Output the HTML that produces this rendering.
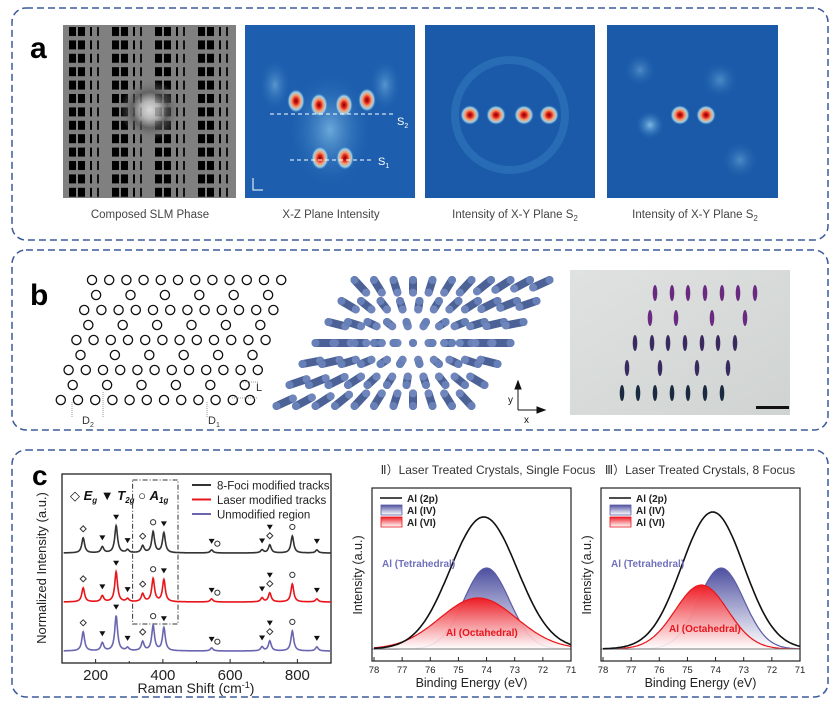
<!DOCTYPE html>
<html><head><meta charset="utf-8">
<style>
body{margin:0;background:#fff;width:840px;height:719px;overflow:hidden;font-family:"Liberation Sans",sans-serif}
svg{position:absolute;left:0;top:0}
text{font-family:"Liberation Sans","DejaVu Sans",sans-serif}
</style></head><body>
<svg id="fig" width="840" height="719" viewBox="0 0 840 719">
<defs>
<pattern id="slm" width="43" height="13.4" patternUnits="userSpaceOnUse" x="63" y="25">
<rect width="43" height="13.4" fill="#808080"/>
<rect x="6" y="2" width="7" height="9" fill="#000"/><rect x="15" y="2" width="7" height="9" fill="#000"/>
<rect x="27" y="2" width="2" height="9" fill="#000"/><rect x="34" y="2" width="2" height="9" fill="#111"/>
</pattern>
<radialGradient id="spot"><stop offset="0" stop-color="#7a0000"/><stop offset="0.25" stop-color="#e0201a"/><stop offset="0.5" stop-color="#f5a070"/><stop offset="0.75" stop-color="#9cd0ea"/><stop offset="1" stop-color="#1e64b4" stop-opacity="0"/></radialGradient>
<radialGradient id="glow"><stop offset="0" stop-color="#7fbbe4"/><stop offset="1" stop-color="#2a6fbb" stop-opacity="0"/></radialGradient>
<radialGradient id="ring"><stop offset="0" stop-color="#fff"/><stop offset="0.3" stop-color="#ccc"/><stop offset="0.6" stop-color="#555"/><stop offset="1" stop-color="#808080" stop-opacity="0"/></radialGradient>
<linearGradient id="gIV" x1="0" y1="0" x2="0" y2="1"><stop offset="0" stop-color="#4d4fa0"/><stop offset="1" stop-color="#fff" stop-opacity="0.9"/></linearGradient>
<linearGradient id="gVI" x1="0" y1="0" x2="0" y2="1"><stop offset="0" stop-color="#ee1c24"/><stop offset="1" stop-color="#fff" stop-opacity="0.9"/></linearGradient>
<linearGradient id="photoBg" x1="0" y1="0" x2="1" y2="1"><stop offset="0" stop-color="#dfe2e0"/><stop offset="1" stop-color="#cfd3d1"/></linearGradient>
</defs>

<rect x="12" y="8" width="816" height="232" rx="14" fill="none" stroke="#3d5a9a" stroke-width="1.5" stroke-dasharray="7,4"/>
<rect x="12" y="250" width="816" height="180" rx="14" fill="none" stroke="#3d5a9a" stroke-width="1.5" stroke-dasharray="7,4"/>
<rect x="12" y="450" width="816" height="247" rx="14" fill="none" stroke="#3d5a9a" stroke-width="1.5" stroke-dasharray="7,4"/>

<text x="30" y="58" font-size="30" font-weight="bold">a</text>
<text x="30" y="305" font-size="30" font-weight="bold">b</text>
<text x="32" y="485" font-size="28" font-weight="bold">c</text>

<g>
<rect x="63" y="25" width="173" height="173" fill="url(#slm)"/>
<circle cx="150" cy="110" r="30" fill="url(#ring)" opacity="0.7"/>
</g>
<g>
<rect x="245" y="25" width="170" height="173" fill="#1d5fae"/>
<ellipse cx="330" cy="130" rx="40" ry="55" fill="url(#glow)" opacity="0.8"/>
<ellipse cx="275" cy="85" rx="15" ry="25" fill="url(#glow)" opacity="0.6"/>
<ellipse cx="385" cy="85" rx="15" ry="25" fill="url(#glow)" opacity="0.6"/>
<ellipse cx="296" cy="101" rx="9" ry="12" fill="url(#spot)"/>
<ellipse cx="319" cy="105" rx="9" ry="12" fill="url(#spot)"/>
<ellipse cx="344" cy="105" rx="9" ry="12" fill="url(#spot)"/>
<ellipse cx="367" cy="100" rx="9" ry="12" fill="url(#spot)"/>
<ellipse cx="320" cy="158" rx="9" ry="12" fill="url(#spot)"/>
<ellipse cx="345" cy="158" rx="9" ry="12" fill="url(#spot)"/>
<line x1="270" y1="114" x2="395" y2="114" stroke="#fff" stroke-dasharray="4,3" stroke-width="1"/>
<line x1="290" y1="160" x2="372" y2="160" stroke="#fff" stroke-dasharray="4,3" stroke-width="1"/>
<text x="397" y="125" fill="#fff" font-size="11">S<tspan font-size="7" dy="3">2</tspan></text>
<text x="378" y="165" fill="#fff" font-size="11">S<tspan font-size="7" dy="3">1</tspan></text>
<path d="M253 178 v12 h10" stroke="#fff" fill="none" stroke-width="1"/>
</g>
<g>
<rect x="425" y="25" width="170" height="173" fill="#1a5aa8"/>
<circle cx="510" cy="115" r="55" fill="none" stroke="#3f86c8" stroke-width="8" opacity="0.4"/>
<circle cx="470" cy="115" r="10" fill="url(#spot)"/><circle cx="496" cy="115" r="10" fill="url(#spot)"/>
<circle cx="524" cy="115" r="10" fill="url(#spot)"/><circle cx="549" cy="115" r="10" fill="url(#spot)"/>
</g>
<g>
<rect x="607" y="25" width="171" height="173" fill="#1a5aa8"/>
<circle cx="650" cy="125" r="14" fill="url(#glow)"/><circle cx="720" cy="80" r="18" fill="url(#glow)" opacity="0.5"/>
<circle cx="640" cy="70" r="16" fill="url(#glow)" opacity="0.5"/><circle cx="740" cy="160" r="18" fill="url(#glow)" opacity="0.5"/>
<circle cx="680" cy="115" r="10" fill="url(#spot)"/><circle cx="706" cy="115" r="10" fill="url(#spot)"/>
</g>
<g font-size="11.5" fill="#444" text-anchor="middle">
<text x="150" y="218">Composed SLM Phase</text>
<text x="331" y="218">X-Z Plane Intensity</text>
<text x="515" y="218">Intensity of X-Y Plane S<tspan font-size="8" dy="3">2</tspan></text>
<text x="695" y="218">Intensity of X-Y Plane S<tspan font-size="8" dy="3">2</tspan></text>
</g>

<g id="lattice" fill="none" stroke="#111" stroke-width="1.3"></g>
<g font-size="11" fill="#333">
<line x1="243" y1="382" x2="258" y2="382" stroke="#999" stroke-dasharray="1,1"/>
<line x1="232" y1="398" x2="258" y2="398" stroke="#999" stroke-dasharray="1,1"/>
<text x="256" y="391">L</text>
<line x1="72" y1="402" x2="72" y2="418" stroke="#999" stroke-dasharray="1,1"/>
<line x1="103" y1="392" x2="103" y2="418" stroke="#999" stroke-dasharray="1,1"/>
<line x1="207" y1="402" x2="207" y2="418" stroke="#999" stroke-dasharray="1,1"/>
<text x="82" y="424">D<tspan font-size="7" dy="3">2</tspan></text>
<text x="208" y="424">D<tspan font-size="7" dy="3">1</tspan></text>
</g>
<g id="rods"></g>
<g stroke="#111" stroke-width="1" fill="#111">
<path d="M518 410 V385" /><path d="M515 389 L518 381 L521 389Z"/>
<path d="M518 410 H540"/><path d="M537 407 L545 410 L537 413Z"/>
<text x="508" y="403" font-size="10" stroke="none">y</text><text x="524" y="423" font-size="10" stroke="none">x</text>
</g>
<g>
<rect x="570" y="270" width="220" height="145" fill="url(#photoBg)"/>
<g id="marks"></g>
<rect x="756" y="406" width="33" height="3" fill="#111"/>
</g>

<g id="raman"></g>
<g id="xps2"></g>
<g id="xps3"></g>
</svg>

<script>
const NS='http://www.w3.org/2000/svg';
function mk(tag,attrs,parent,txt){const e=document.createElementNS(NS,tag);for(const k in attrs)e.setAttribute(k,attrs[k]);if(txt!==undefined)e.textContent=txt;parent.appendChild(e);return e;}

const lat=document.getElementById('lattice');
for(let r=0;r<9;r++){
  const y=280+r*15;
  const dense=(r%2===0);
  const n=dense?12:6, pitch=dense?17.2:34.4;
  const start=dense?(92-r*3.9):(100-r*3.9);
  for(let i=0;i<n;i++){
    const c=mk('circle',{cx:start+i*pitch,cy:y,r:4.6},lat);
    
    
  }
}
const rods=document.getElementById('rods');
const cx=413,cy=343;
for(let r=-3;r<=3;r++){
  for(let c=-5;c<=5;c++){
    const x=cx+c*19.5-r*13, y=cy+r*21;
    const dx=x-cx, dy=y-cy, d=Math.hypot(dx,dy);
    const L=Math.min(d*0.2,18);
    const ux=d?dx/d:0, uy=d?dy/d:0;
    const ln=mk('line',{x1:x,y1:y,x2:x-ux*L,y2:y-uy*L,stroke:'#4c6296','stroke-width':8,'stroke-linecap':'round'},rods);
    
    
    mk('circle',{cx:x-ux*L,cy:y-uy*L,r:4,fill:'#6f86bd'},rods);
    mk('circle',{cx:x,cy:y,r:4,fill:'#6880b8'},rods);
  }
}
const marks=document.getElementById('marks');
const rowsY=[293,318,343,368,393];
const cols=[[655,672,688,705,722,738,755],[650,676,712,745],[635,652,668,685,702,718,735],[627,660,697,728],[622,638,655,672,688,705,722]];
rowsY.forEach((y,ri)=>cols[ri].forEach(x=>{
  const e=mk('ellipse',{cx:x,cy:y,rx:2.3,ry:8,fill:ri<2?'#6a2a80':(ri<4?'#3a2a60':'#1a2a40')},marks);
  
  
}));

const ramanPeaks=[163,220,261,295,340,371,403,545,695,718,785,858];
const blackH=[15,6,27,3,7,21,20,3,3,8,17,3];
const redH=[14,6,30,3,8,23,22,3,4,9,18,3];
const blueH=[19,8,35,3,9,25,23,3,4,10,20,4];
const markerPos=[163,220,261,295,340,371,403,545,562,695,718,718,785,858];
const markerType=['d','t','t','t','d','o','t','t','o','t','t','d','o','t'];
const ramanTicks=[200,400,600,800];
const seriesNames=['8-Foci modified tracks','Laser modified tracks','Unmodified region'];

const R={x0:62,x1:331,y0:474,y1:663,dmin:100,dmax:900};
const rx=v=>R.x0+(v-R.dmin)/(R.dmax-R.dmin)*(R.x1-R.x0);
const g=document.getElementById('raman');
const box=mk('rect',{x:R.x0,y:R.y0,width:R.x1-R.x0,height:R.y1-R.y0,fill:'none',stroke:'#222','stroke-width':1.3},g);

for(let v=100;v<=900;v+=100){mk('line',{x1:rx(v),y1:R.y1,x2:rx(v),y2:R.y1-(v%200===0?4:2),stroke:'#222'},g);}
ramanTicks.forEach(v=>{const t=mk('text',{x:rx(v),y:R.y1+17,'font-size':15,'text-anchor':'middle',fill:'#222'},g,String(v));});
const xt=mk('text',{x:196,y:693,'font-size':14,'text-anchor':'middle',fill:'#222'},g);xt.innerHTML='Raman Shift (cm<tspan font-size="9" dy="-5">-1</tspan><tspan dy="5">)</tspan>';

const yt=mk('text',{transform:'translate(46,568) rotate(-90)','font-size':13,'text-anchor':'middle',fill:'#222'},g,'Normalized Intensity (a.u.)');

const dbox=mk('rect',{x:rx(310),y:480,width:rx(445)-rx(310),height:144,fill:'none',stroke:'#333','stroke-dasharray':'5,2,1,2'},g);

const baselines=[553,602,651], colors=['#333','#e8151b','#6a66b0'], allH=[blackH,redH,blueH];
const wid=5;
allH.forEach((H,si)=>{
  let d='';
  for(let v=R.dmin+5;v<=R.dmax;v+=1){
    let s=0;ramanPeaks.forEach((p,i)=>{s+=H[i]/(1+((v-p)/wid)**2);});
    d+=(d?'L':'M')+rx(v).toFixed(1)+','+(baselines[si]-s).toFixed(1);
  }
  const p=mk('path',{d:d,fill:'none',stroke:colors[si],'stroke-width':1.6},g);
  
  markerPos.forEach((mp,mi)=>{
    let s=0;ramanPeaks.forEach((p2,i)=>{s+=H[i]/(1+((mp-p2)/wid)**2);});
    let yy=baselines[si]-s-8; if(markerType[mi]==='t'&&mp===718)yy-=9;
    const X=rx(mp);let m;
    if(markerType[mi]==='t') m=mk('path',{d:`M${X-3},${yy-3}L${X+3},${yy-3}L${X},${yy+2}Z`,fill:'#111'},g);
    else if(markerType[mi]==='o') m=mk('circle',{cx:X,cy:yy-1,r:2.6,fill:'none',stroke:'#333'},g);
    else m=mk('path',{d:`M${X},${yy-4}L${X+3},${yy-1}L${X},${yy+2}L${X-3},${yy-1}Z`,fill:'none',stroke:'#333'},g);
    
  });
});
seriesNames.forEach((n,i)=>{
  const y=485+i*14.5;
  mk('line',{x1:192,y1:y,x2:211,y2:y,stroke:colors[i],'stroke-width':2},g);
  const t=mk('text',{x:217,y:y+4.5,'font-size':11.5,fill:'#222'},g,n);
  
});
const sym=mk('text',{x:70,y:500,'font-size':13,fill:'#111'},g);
sym.innerHTML='◇ <tspan font-weight="bold" font-style="italic">E<tspan font-size="8" dy="3">g</tspan></tspan><tspan dy="-3"> ▼ </tspan><tspan font-weight="bold" font-style="italic">T<tspan font-size="8" dy="3">2g</tspan></tspan><tspan dy="-3"> ○ </tspan><tspan font-weight="bold" font-style="italic">A<tspan font-size="8" dy="3">1g</tspan></tspan>';


const xpsTicks=[78,77,76,75,74,73,72,71];
const single2pCenter=74.1, single2pHeight=132, single2pFwhm=2.8;
const singleIVCenter=74.0, singleIVHeight=81, singleIVFwhm=1.9;
const singleVICenter=74.3, singleVIHeight=51, singleVIFwhm=3.2;
const eight2pCenter=74.1, eight2pHeight=137, eight2pFwhm=2.6;
const eightIVCenter=73.8, eightIVHeight=81, eightIVFwhm=1.9;
const eightVICenter=74.5, eightVIHeight=64, eightVIFwhm=2.2;

function xps(id,X0,title,tx,peaks,tetra,octa){
  const G=document.getElementById(id);
  const P={x0:X0,x1:X0+199,y0:488,y1:661,base:649};
  const ex=e=>P.x0+2+(78-e)/7*(P.x1-P.x0-2);
  const gau=(e,c,h,f)=>h*Math.exp(-4*Math.LN2*((e-c)/f)**2);
  const tt=mk('text',{x:tx,y:474,'font-size':12,'text-anchor':'middle',fill:'#333'},G,title);
  
  const fills=[['gIV','#5b5ba8',peaks[1]],['gVI','#e8151b',peaks[2]]];
  fills.forEach(([gid,col,pk])=>{
    let d=`M${ex(78)},${P.base}`;let l='';
    for(let e=78;e>=71;e-=0.05){const y=P.base-gau(e,...pk);d+=`L${ex(e).toFixed(1)},${y.toFixed(1)}`;l+=(l?'L':'M')+ex(e).toFixed(1)+','+y.toFixed(1);}
    d+=`L${ex(71)},${P.base}Z`;
    const a=mk('path',{d:d,fill:`url(#${gid})`},G);
    mk('path',{d:l,fill:'none',stroke:col,'stroke-width':1.2},G);
  });
  mk('line',{x1:P.x0,y1:P.base,x2:P.x1,y2:P.base,stroke:'#777','stroke-width':1},G);
  let l='';for(let e=78;e>=71;e-=0.05){const y=P.base-gau(e,...peaks[0]);l+=(l?'L':'M')+ex(e).toFixed(1)+','+y.toFixed(1);}
  const env=mk('path',{d:l,fill:'none',stroke:'#111','stroke-width':1.6},G);
  const b=mk('rect',{x:P.x0,y:P.y0,width:P.x1-P.x0,height:P.y1-P.y0,fill:'none',stroke:'#222','stroke-width':1.2},G);
  
  xpsTicks.forEach(v=>{mk('line',{x1:ex(v),y1:P.y1,x2:ex(v),y2:P.y1-4,stroke:'#222'},G);
    const t=mk('text',{x:ex(v),y:P.y1+12,'font-size':9.5,'text-anchor':'middle',fill:'#222'},G,String(v));});
  const xl=mk('text',{x:(P.x0+P.x1)/2,y:687,'font-size':12.5,'text-anchor':'middle',fill:'#222'},G,'Binding Energy (eV)');
  const yl=mk('text',{transform:`translate(${P.x0-10},${575}) rotate(-90)`,'font-size':12.5,'text-anchor':'middle',fill:'#222'},G,'Intensity (a.u.)');
  const L=[['Al (2p)','line'],['Al (IV)','gIV'],['Al (VI)','gVI']];
  L.forEach(([n,k],i)=>{const y=498+i*12;
    if(k==='line')mk('line',{x1:P.x0+8,y1:y,x2:P.x0+30,y2:y,stroke:'#111','stroke-width':1.5},G);
    else mk('rect',{x:P.x0+9,y:y-5,width:21,height:10,fill:`url(#${k})`,stroke:k==='gIV'?'#5b5ba8':'#e8151b','stroke-width':0.8},G);
    const t=mk('text',{x:P.x0+35,y:y+4,'font-size':10,'font-weight':'bold',fill:'#222'},G,n);});
  const t1=mk('text',{x:tetra[0],y:tetra[1],'font-size':10,'font-weight':'bold',fill:'#7070bb'},G,'Al (Tetrahedral)');
  const t2=mk('text',{x:octa[0],y:octa[1],'font-size':10,'font-weight':'bold',fill:'#e8151b'},G,'Al (Octahedral)');
}
xps('xps2',372,'Ⅱ）Laser Treated Crystals, Single Focus',488,
  [[single2pCenter,single2pHeight,single2pFwhm],[singleIVCenter,singleIVHeight,singleIVFwhm],[singleVICenter,singleVIHeight,singleVIFwhm]],[382,567],[446,636]);
xps('xps3',601,'Ⅲ）Laser Treated Crystals, 8 Focus',700,
  [[eight2pCenter,eight2pHeight,eight2pFwhm],[eightIVCenter,eightIVHeight,eightIVFwhm],[eightVICenter,eightVIHeight,eightVIFwhm]],[611,567],[669,632]);
</script>
</body></html>
